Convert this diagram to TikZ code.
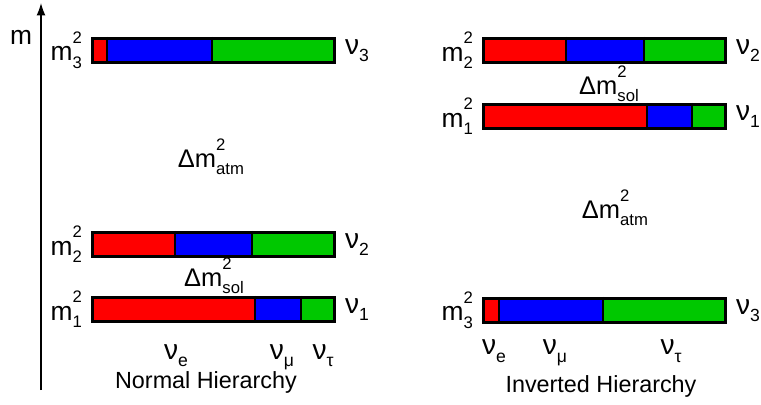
\documentclass[tikz,border=0pt]{standalone}
\usepackage{fontspec}
\setmainfont{Liberation Sans}
\usetikzlibrary{positioning,arrows.meta}
\definecolor{nured}{RGB}{255,0,0}
\definecolor{nublue}{RGB}{0,0,255}
\definecolor{nugreen}{RGB}{0,200,0}
% mass label with stacked ^2 and _#2
\newcommand{\sqlab}[2]{#1\rlap{\raisebox{0.66em}{\fontsize{9.5}{9.5}\selectfont 2}}\raisebox{-0.3em}{\fontsize{9.5}{9.5}\selectfont #2}}
\newcommand{\flav}[1]{ν\raisebox{-0.25em}{\fontsize{10}{10}\selectfont #1}}
% bar: name, top, left, red end, blue end, right
\newcommand{\flavbar}[6]{%
  \fill[nured] (#3,#2) rectangle (#4,#2+24);
  \fill[nublue] (#4,#2) rectangle (#5,#2+24);
  \fill[nugreen] (#5,#2) rectangle (#6,#2+24);
  \draw[line width=1pt] (#4,#2) -- (#4,#2+24) (#5,#2) -- (#5,#2+24);
  \node[barbox, minimum width={(#6-#3)*0.02cm}] (#1) at (#3,#2) {};
}
\tikzset{
  barbox/.style={draw, line width=1.7pt, anchor=north west, minimum height=0.48cm, inner sep=0pt},
  masslab/.style={font=\fontsize{15}{17}\selectfont, inner sep=1pt},
  nulab/.style={font=\fontsize{16}{17}\selectfont, inner sep=1pt},
  splitlab/.style={font=\fontsize{14.5}{16}\selectfont, inner sep=1pt},
  titlelab/.style={font=\fontsize{13.3}{15}\selectfont, inner sep=1pt, anchor=base}
}
\begin{document}
\begin{tikzpicture}[x=0.02cm,y=-0.02cm]
\useasboundingbox (0,0) rectangle (761,405);
% axis
\coordinate (axbot) at (41,390);
\coordinate (axtop) at (41,3);
\draw[line width=0.7pt,-{Latex[length=7pt,width=5pt]}] (axbot) -- (axtop);
\node[masslab] (mlab) at (21,37) {m};

% normal hierarchy
\flavbar{nh3}{37}{91}{107}{212}{333}
\flavbar{nh2}{231}{91}{175}{252}{333}
\flavbar{nh1}{296}{91}{255}{301}{333}
\node[masslab, left=4pt of nh3.west] (m3n) {\sqlab{m}{3}};
\node[masslab, left=4pt of nh2.west] (m2n) {\sqlab{m}{2}};
\node[masslab, left=4pt of nh1.west] (m1n) {\sqlab{m}{1}};
\node[nulab, right=4pt of nh3.east] (nu3n) {\flav{3}};
\node[nulab, right=4pt of nh2.east] (nu2n) {\flav{2}};
\node[nulab, right=4pt of nh1.east] (nu1n) {\flav{1}};
\node[splitlab] (atmn) at (211,157) {\sqlab{Δm}{atm}};
\node[splitlab] (soln) at (214,276) {\sqlab{Δm}{sol}};
\node[nulab, anchor=base] (nuen) at (176,359) {\flav{e}};
\node[nulab, anchor=base] (numn) at (282,359) {\flav{μ}};
\node[nulab, anchor=base] (nutn) at (323,359) {\flav{τ}};
\node[titlelab] (normal) at (206,388) {Normal Hierarchy};

% inverted hierarchy
\flavbar{ih2}{37}{482}{566}{644}{724}
\flavbar{ih1}{103}{482}{647}{692}{724}
\flavbar{ih3}{297}{482}{499}{603}{724}
\node[masslab, left=4pt of ih2.west] (m2i) {\sqlab{m}{2}};
\node[masslab, left=4pt of ih1.west] (m1i) {\sqlab{m}{1}};
\node[masslab, left=4pt of ih3.west] (m3i) {\sqlab{m}{3}};
\node[nulab, right=4pt of ih2.east] (nu2i) {\flav{2}};
\node[nulab, right=4pt of ih1.east] (nu1i) {\flav{1}};
\node[nulab, right=4pt of ih3.east] (nu3i) {\flav{3}};
\node[splitlab] (soli) at (609,84) {\sqlab{Δm}{sol}};
\node[splitlab] (atmi) at (615,208) {\sqlab{Δm}{atm}};
\node[nulab, anchor=base] (nuei) at (494,355) {\flav{e}};
\node[nulab, anchor=base] (numi) at (555,355) {\flav{μ}};
\node[nulab, anchor=base] (nuti) at (671,355) {\flav{τ}};
\node[titlelab] (inverted) at (601,392) {Inverted Hierarchy};
\end{tikzpicture}
\end{document}
